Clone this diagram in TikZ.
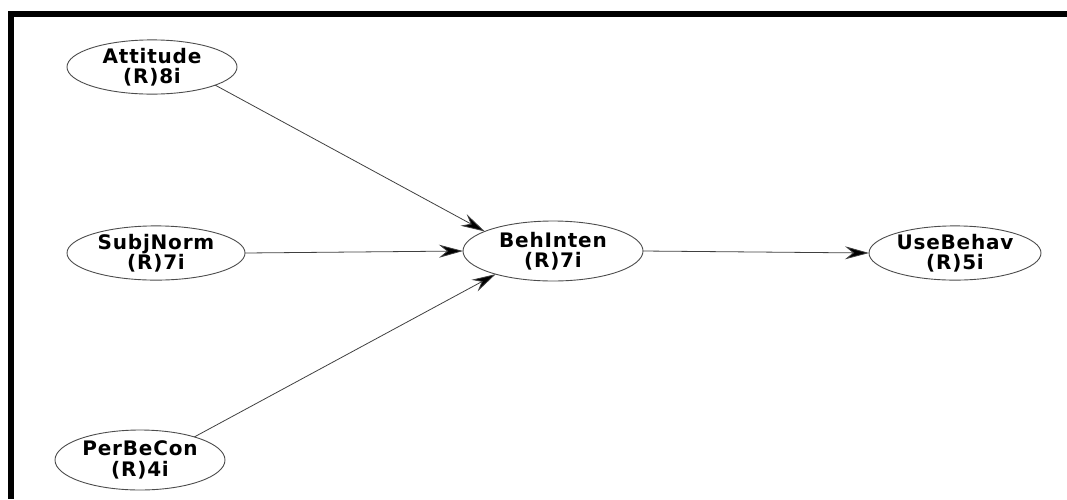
\documentclass[tikz,border=0pt]{standalone}
\usepackage{fontspec}
\setmainfont{Liberation Sans}
\newfontfamily\lblfont[LetterSpace=4]{DejaVu Sans}
\usetikzlibrary{shapes.geometric,arrows.meta}
\begin{document}
\begin{tikzpicture}[x=1pt,y=-1pt,
  construct/.style={ellipse, draw=black!70, line width=0.9pt, inner sep=0pt, outer sep=0pt,
    align=center, font=\lblfont\bfseries\fontsize{20}{20.5}\selectfont},
  link/.style={draw=black!75, line width=0.8pt,
    -{Stealth[length=24pt,width=13pt,inset=8pt,fill=black]}}]
\useasboundingbox (0,0) rectangle (1067,499);
\fill[black] (8,11) rectangle (1067,17);
\fill[black] (8,11) rectangle (14,499);
\node[construct, minimum width=170pt, minimum height=52pt] (att) at (152,67) {Attitude\\(R)8i};
\node[construct, minimum width=178pt, minimum height=52pt] (sub) at (156,253) {SubjNorm\\(R)7i};
\node[construct, minimum width=170pt, minimum height=60pt] (per) at (140,460) {PerBeCon\\(R)4i};
\node[construct, minimum width=180pt, minimum height=60pt] (beh) at (553,251) {BehInten\\(R)7i};
\node[construct, minimum width=172pt, minimum height=52pt] (use) at (955,253) {UseBehav\\(R)5i};
\draw[link] (att.-16) -- (beh.164);
\draw[link] (sub.east) -- (beh.west);
\draw[link] (per.23) -- (beh.202);
\draw[link] (beh.east) -- (use.west);
\end{tikzpicture}
\end{document}
